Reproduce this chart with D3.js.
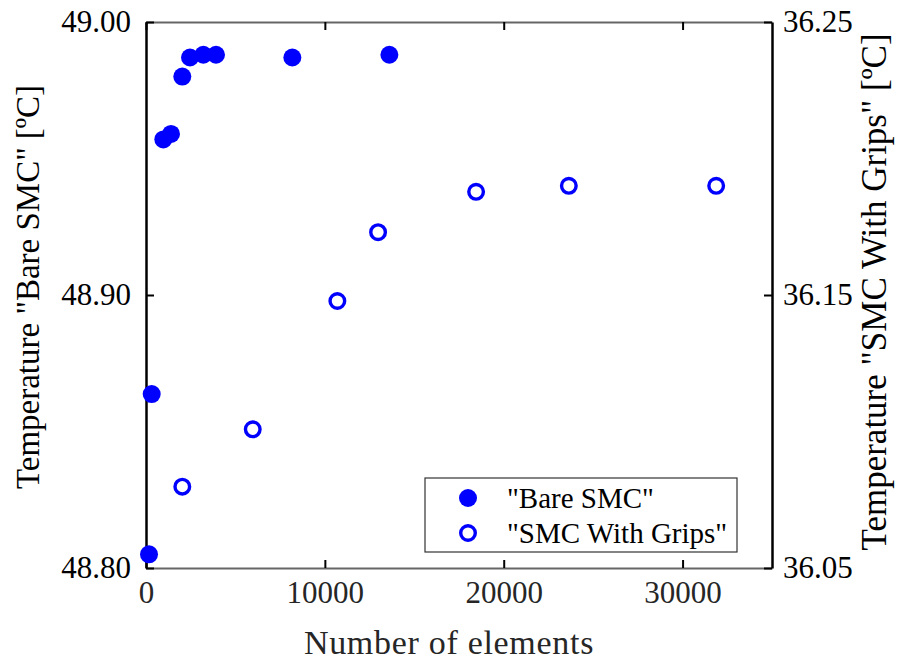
<!DOCTYPE html>
<html>
<head>
<meta charset="utf-8">
<title>temperature vs elements</title>
<script src="https://cdn.jsdelivr.net/npm/d3@7"></script>
<style>
  body { margin: 0; background: #fff; }
  text { font-family: "Liberation Serif", "Times New Roman", serif; }
</style>
</head>
<body>
<script>

// "Bare SMC" (left axis)
var bareElements = [168, 319, 968, 1398, 2030, 2461, 3205, 3915, 8182, 13607];
var bareTemp = [48.805, 48.8637, 48.957, 48.959, 48.980, 48.987, 48.988, 48.988, 48.987, 48.988];

// "SMC With Grips" (right axis)
var gripElements = [2030, 5968, 10699, 12975, 18456, 23641, 31879];
var gripTemp = [36.0798, 36.1008, 36.1478, 36.173, 36.1878, 36.190, 36.190];

var xTicks = [0, 10000, 20000, 30000];
var leftTicks = [48.80, 48.90, 49.00];
var rightTicks = [36.05, 36.15, 36.25];
var legendLabels = ['"Bare SMC"', '"SMC With Grips"'];

var W = 898, H = 661;
var margin = {top: 22, right: 126, bottom: 93, left: 146},
    width = W - margin.left - margin.right,
    height = H - margin.top - margin.bottom;

var x = d3.scaleLinear().domain([0, 35000]).range([0, width]);
var yL = d3.scaleLinear().domain([48.80, 49.00]).range([height, 0]);
var yR = d3.scaleLinear().domain([36.05, 36.25]).range([height, 0]);

var svg = d3.select("body").append("svg")
    .attr("width", W)
    .attr("height", H)
  .append("g")
    .attr("transform", "translate(" + margin.left + "," + margin.top + ")");

// bottom / top axes (gray lines, black ticks inward)
var xBottom = svg.append("g")
    .attr("transform", "translate(0," + height + ")")
    .call(d3.axisBottom(x).tickValues(xTicks).tickFormat(d3.format("d")).tickSizeInner(-8).tickSizeOuter(0).tickPadding(13));
xBottom.select(".domain").attr("stroke", "#666").attr("stroke-width", 2);
xBottom.selectAll(".tick line").attr("stroke", "#000").attr("stroke-width", 2);
xBottom.selectAll(".tick text").attr("font-size", 31).attr("fill", "#262626")
    .style("font-family", "Liberation Serif");

var xTop = svg.append("g")
    .call(d3.axisTop(x).tickValues(xTicks).tickFormat("").tickSizeInner(-8).tickSizeOuter(0));
xTop.select(".domain").attr("stroke", "#666").attr("stroke-width", 2);
xTop.selectAll(".tick line").attr("stroke", "#000").attr("stroke-width", 2);

// left axis
var yLeft = svg.append("g")
    .call(d3.axisLeft(yL).tickValues(leftTicks).tickFormat(d3.format(".2f")).tickSizeInner(-8).tickSizeOuter(0).tickPadding(15));
yLeft.select(".domain").attr("stroke", "#000").attr("stroke-width", 2.5);
yLeft.selectAll(".tick line").attr("stroke", "#000").attr("stroke-width", 2);
yLeft.selectAll(".tick text").attr("font-size", 31).attr("fill", "#000")
    .style("font-family", "Liberation Serif");

// right axis
var yRight = svg.append("g")
    .attr("transform", "translate(" + width + ",0)")
    .call(d3.axisRight(yR).tickValues(rightTicks).tickFormat(d3.format(".2f")).tickSizeInner(-8).tickSizeOuter(0).tickPadding(11));
yRight.select(".domain").attr("stroke", "#000").attr("stroke-width", 2.5);
yRight.selectAll(".tick line").attr("stroke", "#000").attr("stroke-width", 2);
yRight.selectAll(".tick text").attr("font-size", 31).attr("fill", "#000")
    .style("font-family", "Liberation Serif");

// axis titles
svg.append("text")
    .attr("x", width / 2 - 10)
    .attr("y", height + 86)
    .attr("text-anchor", "middle")
    .attr("font-size", 34)
    .attr("fill", "#262626")
    .style("letter-spacing", "0.7px")
    .text("Number of elements");

svg.append("text")
    .attr("transform", "translate(" + (-107) + "," + (265) + ") rotate(-90)")
    .attr("text-anchor", "middle")
    .attr("font-size", 33)
    .attr("fill", "#000")
    .text('Temperature "Bare SMC" [ºC]');

svg.append("text")
    .attr("transform", "translate(" + (width + 114) + "," + (270) + ") rotate(-90)")
    .attr("text-anchor", "middle")
    .attr("font-size", 35)
    .attr("fill", "#000")
    .text('Temperature "SMC With Grips" [ºC]');

// points
var bare = bareElements.map(function (d, i) { return {n: d, t: bareTemp[i]}; });
var grips = gripElements.map(function (d, i) { return {n: d, t: gripTemp[i]}; });

svg.selectAll(".bare")
    .data(bare)
  .enter().append("circle")
    .attr("class", "bare")
    .attr("cx", function (d) { return x(d.n); })
    .attr("cy", function (d) { return yL(d.t); })
    .attr("r", 9)
    .attr("fill", "#0000ff");

svg.selectAll(".grip")
    .data(grips)
  .enter().append("circle")
    .attr("class", "grip")
    .attr("cx", function (d) { return x(d.n); })
    .attr("cy", function (d) { return yR(d.t); })
    .attr("r", 7.3)
    .attr("fill", "none")
    .attr("stroke", "#0000ff")
    .attr("stroke-width", 3.4);

// legend
var lg = svg.append("g").attr("transform", "translate(" + (425 - margin.left) + "," + (478 - margin.top) + ")");
lg.append("rect")
    .attr("width", 312)
    .attr("height", 74)
    .attr("fill", "#fff")
    .attr("stroke", "#333")
    .attr("stroke-width", 1.2);

lg.selectAll(".lt")
    .data(legendLabels)
  .enter().append("text")
    .attr("x", 82)
    .attr("y", function (d, i) { return 20 + i * 35; })
    .attr("dy", "0.35em")
    .attr("font-size", 29)
    .attr("fill", "#000")
    .text(function (d) { return d; });

lg.append("circle").attr("cx", 43).attr("cy", 20).attr("r", 9).attr("fill", "#0000ff");
lg.append("circle").attr("cx", 43).attr("cy", 55).attr("r", 7.3)
    .attr("fill", "none").attr("stroke", "#0000ff").attr("stroke-width", 3.4);

</script>
</body>
</html>
